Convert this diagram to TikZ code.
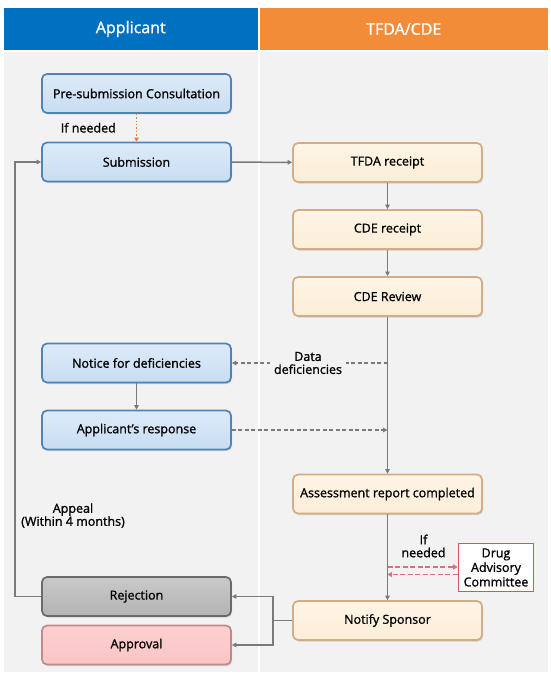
\documentclass[tikz,border=0pt]{standalone}
\usepackage{fontspec}
\setmainfont{Open Sans}[FakeBold=1.2,AutoFakeBold=1.2]
\usetikzlibrary{arrows.meta,shadows}
\definecolor{hblue}{HTML}{0070C0}
\definecolor{horange}{HTML}{F28C38}
\definecolor{panel}{HTML}{F2F2F2}
\definecolor{bfill}{HTML}{D6E7F8}
\definecolor{bdraw}{HTML}{4F84B8}
\definecolor{ofill}{HTML}{FEF2DE}
\definecolor{odraw}{HTML}{D2AD85}
\definecolor{gfill}{HTML}{C3C3C3}
\definecolor{gdraw}{HTML}{6A6A6A}
\definecolor{pfill}{HTML}{FDC9C9}
\definecolor{pdraw}{HTML}{BF8A8C}
\definecolor{lgray}{HTML}{7A7A7A}
\definecolor{dred}{HTML}{D9707A}
\definecolor{dotor}{HTML}{ED7D31}
\definecolor{rbox}{HTML}{D9545C}
\newcommand{\sbf}{\fontsize{12.5}{15}\selectfont\bfseries}
\begin{document}
\begin{tikzpicture}[x=1pt,y=-1pt,
  hdr/.style={minimum height=42pt, inner sep=0pt, text=white, font=\fontsize{16}{19}\selectfont\bfseries},
  box/.style={rounded corners=5pt, line width=1.7pt, minimum width=189pt, minimum height=39pt, inner sep=0pt,
    font=\sbf,
    drop shadow={opacity=0.3,shadow xshift=1pt,shadow yshift=-1.5pt}},
  bbox/.style={box, top color=bfill!85!white, bottom color=bfill!90!bdraw, draw=bdraw},
  obox/.style={box, top color=ofill!80!white, bottom color=ofill!94!odraw, draw=odraw},
  gbox/.style={box, top color=gfill!90!white, bottom color=gfill!92!black, draw=gdraw},
  pbox/.style={box, top color=pfill!88!white, bottom color=pfill!94!pdraw, draw=pdraw},
  lbl/.style={font=\sbf, align=center, inner sep=1pt},
  arr/.style={draw=lgray, line width=1.5pt, -{Triangle[length=4.5pt,width=4.5pt]}},
  darr/.style={arr, dash pattern=on 4pt off 2.5pt},
  rarr/.style={draw=dred, line width=1.7pt, dash pattern=on 5pt off 2.5pt, -{Triangle[length=4.5pt,width=5pt]}}
]
\useasboundingbox (0,0) rectangle (550,682);
% headers and panels
\node[hdr, fill=hblue, minimum width=254.5pt] (hA) at (130.75,29) {Applicant};
\node[hdr, fill=horange, minimum width=287.5pt] (hT) at (403.75,29) {TFDA/CDE};
\fill[panel] (3.5,52) rectangle (258,672);
\fill[panel] (260,52) rectangle (547.5,672);
% left column
\node[bbox] (pre) at (136.5,93.5) {Pre-submission Consultation};
\node[bbox] (sub) at (136.5,162) {Submission};
\node[bbox] (not) at (136.5,363) {Notice for deficiencies};
\node[bbox] (res) at (136.5,430) {Applicant’s response};
\node[gbox] (rej) at (136.5,596.5) {Rejection};
\node[pbox] (app) at (136.5,645) {Approval};
% right column
\node[obox] (tfda) at (387.5,162.5) {TFDA receipt};
\node[obox] (cder) at (387.5,229.5) {CDE receipt};
\node[obox] (rev) at (387.5,296.5) {CDE Review};
\node[obox] (ass) at (387.5,494) {Assessment report completed};
\node[obox] (ns) at (387.5,620.5) {Notify Sponsor};
\node[draw=rbox, fill=white, line width=1.6pt, minimum width=75pt, minimum height=48pt, inner sep=0pt,
  align=center, font=\fontsize{12.5}{14.5}\selectfont\bfseries] (dac) at (496,567.5) {Drug\\Advisory\\Committee};
% connectors
\draw[draw=dotor, line width=1.4pt, dotted, -{Triangle[length=4pt,width=4.5pt]}] (pre) -- (sub)
  node[midway, left=19pt, lbl, text=black] {If needed};
\draw[arr] (sub) -- (tfda);
\draw[arr] (tfda) -- (cder);
\draw[arr] (cder) -- (rev);
\draw[arr] (rev) -- (ass);
\coordinate (jd) at (rev.south |- not.east);
\coordinate (jr) at (rev.south |- res.east);
\draw[darr] (jd) -- (not.east);
\node[lbl, fill=panel, inner xsep=4pt, inner ysep=0pt] (dd) at (308,363) {Data\\[-2pt]deficiencies};
\draw[arr] (not) -- (res);
\draw[darr] (res.east) -- (jr);
\draw[arr] (ass) -- (ns);
\node[lbl] (ifn) at (423.5,546) {If\\[-2pt]needed};
\coordinate (da) at (ass.south |- 0,567);
\coordinate (db) at (ass.south |- 0,574.5);
\draw[rarr] (da) -- (dac.west |- da);
\draw[rarr] (dac.west |- db) -- (db);
\coordinate (k) at (273,620.5);
\draw[draw=lgray, line width=1.5pt] (ns.west) -- (k);
\draw[arr] (k) |- (rej.east);
\draw[arr] (k) |- (app.east);
\draw[arr] (rej.west) -- (15,596.5) |- (sub.west);
\node[lbl] (apl) at (73,515.5) {Appeal\\[-2pt](Within 4 months)};
\end{tikzpicture}
\end{document}
